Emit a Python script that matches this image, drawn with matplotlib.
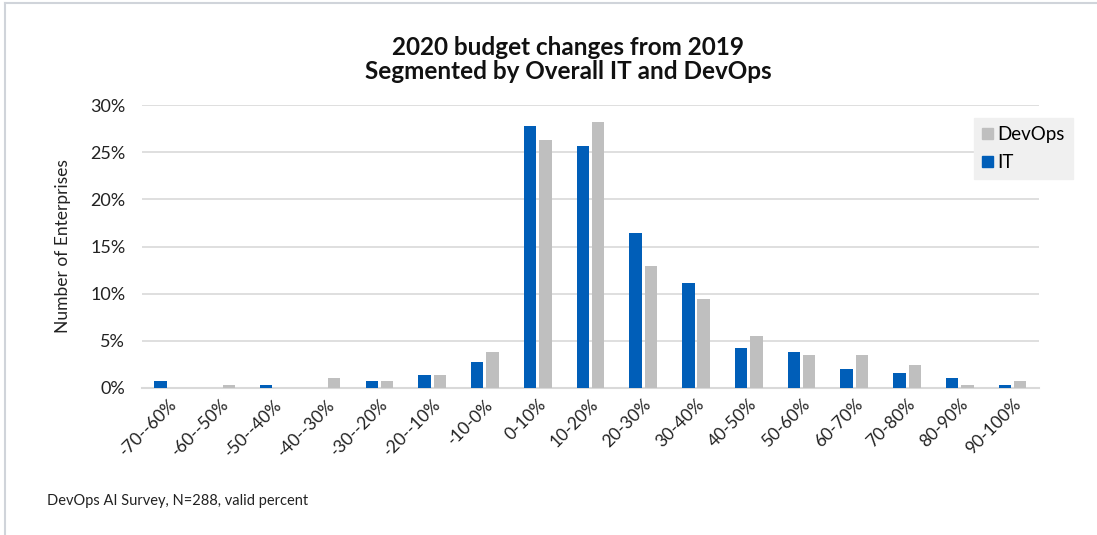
import matplotlib
matplotlib.use("Agg")
import matplotlib.pyplot as plt
import numpy as np
from matplotlib.lines import Line2D
from matplotlib.patches import Patch
from matplotlib.ticker import FuncFormatter

plt.rcParams['font.family'] = ['Lato', 'DejaVu Sans']

categories = ["-70--60%", "-60--50%", "-50--40%", "-40--30%", "-30--20%", "-20--10%",
              "-10-0%", "0-10%", "10-20%", "20-30%", "30-40%", "40-50%", "50-60%",
              "60-70%", "70-80%", "80-90%", "90-100%"]
it_share = [0.7, 0.0, 0.35, 0.0, 0.7, 1.4, 2.8, 27.8, 25.7, 16.4, 11.1, 4.2, 3.8,
            2.0, 1.6, 1.1, 0.35]
devops_share = [0.0, 0.35, 0.0, 1.05, 0.7, 1.4, 3.8, 26.3, 28.2, 12.9, 9.4, 5.5, 3.5,
                3.5, 2.4, 0.35, 0.7]

blue = "#005EB8"
grey = "#BFBFBF"
grid_c = "#D9D9D9"

fig = plt.figure(figsize=(10.97, 5.35), dpi=100)
ax = fig.add_axes([0.1294, 0.2748, 0.8177, 0.5289])

x = np.arange(len(categories))
w = 0.235
ax.bar(x - 0.145, it_share, width=w, color=blue, label="IT", zorder=3)
ax.bar(x + 0.145, devops_share, width=w, color=grey, label="DevOps", zorder=3)

ax.set_xlim(-0.5, len(categories) - 0.5)
ax.set_ylim(0, 30)
ax.set_yticks(np.arange(0, 31, 5))
ax.yaxis.set_major_formatter(FuncFormatter(lambda v, p: f"{v:.0f}%"))
ax.grid(axis="y", color=grid_c, linewidth=1.2, zorder=0)
for s in ["top", "right", "left"]:
    ax.spines[s].set_visible(False)
ax.spines["bottom"].set_color(grid_c)
ax.spines["bottom"].set_linewidth(1.5)
ax.tick_params(axis="both", length=0, colors="#222222", labelsize=13)
ax.tick_params(axis="y", pad=12)

ax.set_xticks(x)
ax.set_xticklabels(categories, rotation=45, ha="right", rotation_mode="anchor")
for lbl in ax.get_xticklabels():
    lbl.set_fontsize(12.5)
ax.tick_params(axis="x", pad=6)

ax.set_ylabel("Number of Enterprises", fontsize=12.5, color="#222222", labelpad=14)

fig.text(0.518, 0.912, "2020 budget changes from 2019", ha="center", va="center",
         fontsize=17.5, fontweight="bold", color="#111111")
fig.text(0.518, 0.867, "Segmented by Overall IT and DevOps", ha="center", va="center",
         fontsize=17.5, fontweight="bold", color="#111111")

fig.text(0.043, 0.063, "DevOps AI Survey, N=288, valid percent", ha="left", va="center",
         fontsize=10.5, color="#222222")

handles = [Patch(color=grey, label="DevOps"), Patch(color=blue, label="IT")]
leg = ax.legend(handles=handles, loc="upper left", bbox_to_anchor=(0.9275, 0.954),
                frameon=True, fancybox=False, facecolor="#F0F0F0", edgecolor="#F0F0F0",
                fontsize=13.5, handlelength=0.55, handleheight=0.55, handletextpad=0.25,
                borderpad=0.45, labelspacing=0.55, borderaxespad=0)
leg.get_frame().set_alpha(1)

# light frame along the left and top edges
fig.add_artist(Line2D([5 / 1097, 5 / 1097], [0, 1 - 3 / 535], color="#D0D4DA",
                      linewidth=1.5, transform=fig.transFigure))
fig.add_artist(Line2D([5 / 1097, 1], [1 - 3 / 535, 1 - 3 / 535], color="#D0D4DA",
                      linewidth=1.5, transform=fig.transFigure))

fig.savefig("out.png", dpi=100)
